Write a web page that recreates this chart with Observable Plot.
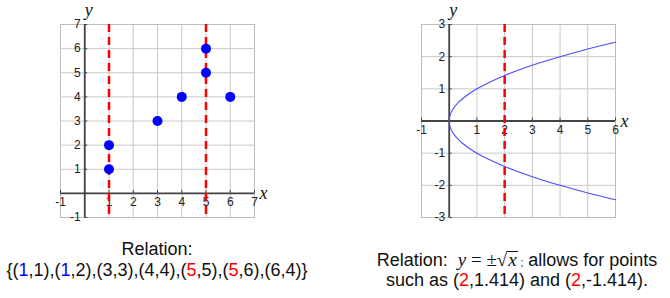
<!DOCTYPE html>
<html><head><meta charset="utf-8">
<script src="https://cdn.jsdelivr.net/npm/d3@7"></script>
<script src="https://cdn.jsdelivr.net/npm/@observablehq/plot@0.6"></script>
<style>
body{margin:0;background:#fff;width:670px;height:298px;position:relative;overflow:hidden;font-family:"Liberation Sans",Arial,sans-serif;}
.abs{position:absolute;}
.cap{position:absolute;text-align:center;font-size:18px;color:#111;white-space:nowrap;}
.cap div{height:21px;line-height:21px;}
.r{color:#ff0000}.b{color:#0000ff}
.m{font-family:"Liberation Serif","Times New Roman",serif;font-size:19px;}
.it{font-style:italic;}
</style></head><body>
<div id="left" class="abs" style="left:0;top:0"></div>
<div id="right" class="abs" style="left:360px;top:0"></div>
<div class="cap" style="left:0;top:239px;width:314px">
  <div>Relation:</div>
  <div>{(<span class="b">1</span>,1),(<span class="b">1</span>,2),(3,3),(4,4),(<span class="r">5</span>,5),(<span class="r">5</span>,6),(6,4)}</div>
</div>
<div class="cap" style="left:364px;top:250px;width:306px">
  <div style="height:20px;line-height:20px">Relation:&nbsp; <span class="m it">y</span><span class="m"> = ±√</span><span class="m it" style="border-top:1px solid #111;line-height:16px;display:inline-block;padding:0 1px">x</span><span style="font-size:10px"> ;</span> allows for points</div>
  <div style="height:20px;line-height:20px">such as (<span class="r">2</span>,1.414) and (<span class="r">2</span>,-1.414).</div>
</div>
<script>
// Left chart data
const ptsX = [1, 1, 3, 4, 5, 5, 6];
const ptsY = [1, 2, 3, 4, 5, 6, 4];
const leftDashX = [1, 5];
const leftGridX = [-1, 0, 1, 2, 3, 4, 5, 6, 7];
const leftGridY = [-1, 0, 1, 2, 3, 4, 5, 6, 7];
const leftXLabels = [-1, 1, 2, 3, 4, 5, 6, 7];
const leftYLabels = [-1, 1, 2, 3, 4, 5, 6, 7];

// Right chart data
const curveX = [0, 0.01, 0.04, 0.09, 0.16, 0.25, 0.36, 0.49, 0.64, 0.81, 1, 1.44, 1.96, 2.56, 3.24, 4, 4.84, 5.76, 6];
const upperY = [0, 0.1, 0.2, 0.3, 0.4, 0.5, 0.6, 0.7, 0.8, 0.9, 1, 1.2, 1.4, 1.6, 1.8, 2, 2.2, 2.4, 2.449];
const lowerY = [0, -0.1, -0.2, -0.3, -0.4, -0.5, -0.6, -0.7, -0.8, -0.9, -1, -1.2, -1.4, -1.6, -1.8, -2, -2.2, -2.4, -2.449];
const rightDashX = [2];
const rightGridX = [-1, 0, 1, 2, 3, 4, 5, 6];
const rightGridY = [-3, -2, -1, 0, 1, 2, 3];
const rightXLabels = [-1, 1, 2, 3, 4, 5, 6];
const rightYLabels = [-3, -2, -1, 1, 2, 3];

const gridColor = "#c8c8c8";
const axisColor = "#444";
const labelFont = 12;

function axesMarks(gx, gy, xl, yl, xmax, ymax) {
  return [
    Plot.ruleX(gx, {stroke: gridColor, strokeWidth: 1}),
    Plot.ruleY(gy, {stroke: gridColor, strokeWidth: 1}),
    Plot.frame({stroke: "#bdbdbd"}),
    Plot.ruleX([0], {stroke: axisColor, strokeWidth: 1.8}),
    Plot.ruleY([0], {stroke: axisColor, strokeWidth: 1.8}),
    Plot.ruleX(gx, {y1: 0, y2: 0, insetTop: -3, insetBottom: 0, stroke: axisColor}),
    Plot.ruleY(gy, {x1: 0, x2: 0, insetLeft: 0, insetRight: -3, stroke: axisColor}),
    Plot.text(xl, {x: d => d, y: () => 0, dy: 9, text: d => String(d), fontSize: labelFont, fill: "#222"}),
    Plot.text(yl, {x: () => 0, y: d => d, dx: -4, text: d => String(d), textAnchor: "end", fontSize: labelFont, fill: "#222"}),
    Plot.text(["x"], {x: () => xmax, y: () => 0, dx: 9, text: d => d, fontSize: 18, fontStyle: "italic", fontFamily: "Liberation Serif, Times New Roman, serif", fill: "#111"}),
    Plot.text(["y"], {x: () => 0, y: () => ymax, dx: 4, dy: -14, text: d => d, fontSize: 18, fontStyle: "italic", fontFamily: "Liberation Serif, Times New Roman, serif", fill: "#111"})
  ];
}

const left = Plot.plot({
  width: 300, height: 230,
  marginLeft: 60, marginRight: 46, marginTop: 24, marginBottom: 13,
  x: {domain: [-1, 7], axis: null},
  y: {domain: [-1, 7], axis: null},
  style: {fontFamily: "Liberation Sans, Arial, sans-serif", background: "transparent", overflow: "visible"},
  marks: [
    ...axesMarks(leftGridX, leftGridY, leftXLabels, leftYLabels, 7, 7),
    Plot.ruleX(leftDashX, {stroke: "#ff0000", strokeWidth: 2.5, strokeDasharray: "8,5"}),
    Plot.dot(ptsX.map((x, i) => ({x, y: ptsY[i]})), {x: "x", y: "y", r: 5, fill: "#0000ff", stroke: "none"})
  ]
});
document.getElementById("left").append(left);

const right = Plot.plot({
  width: 310, height: 230,
  marginLeft: 61, marginRight: 55, marginTop: 24, marginBottom: 13,
  x: {domain: [-1, 6], axis: null},
  y: {domain: [-3, 3], axis: null},
  style: {fontFamily: "Liberation Sans, Arial, sans-serif", background: "transparent", overflow: "visible"},
  marks: [
    ...axesMarks(rightGridX, rightGridY, rightXLabels, rightYLabels, 6, 3),
    Plot.line(curveX.map((x, i) => ({x, y: upperY[i]})), {x: "x", y: "y", stroke: "#4b4bff", strokeWidth: 1.1, curve: "catmull-rom"}),
    Plot.line(curveX.map((x, i) => ({x, y: lowerY[i]})), {x: "x", y: "y", stroke: "#4b4bff", strokeWidth: 1.1, curve: "catmull-rom"}),
    Plot.ruleX(rightDashX, {stroke: "#ff0000", strokeWidth: 2.5, strokeDasharray: "8,5"})
  ]
});
document.getElementById("right").append(right);
</script>
</body></html>
